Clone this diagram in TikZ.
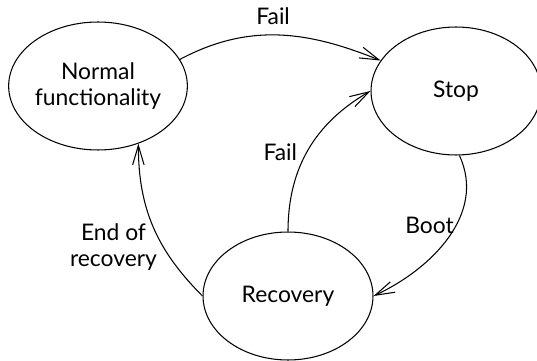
\documentclass[tikz,border=0pt]{standalone}
\usepackage{fontspec}
\setmainfont{Lato}
\usetikzlibrary{shapes.geometric, arrows.meta}

\begin{document}
\begin{tikzpicture}[x=0.02cm, y=-0.02cm,
  state/.style={draw, ellipse, line width=0.6pt, inner sep=0pt, minimum width=3.4cm, minimum height=2.56cm, align=center, font=\fontsize{13}{15}\selectfont},
  trans/.style={line width=0.6pt, -{Straight Barb[length=11pt, width=6.5pt, line width=0.6pt]}},
  lbl/.style={font=\fontsize{13}{15}\selectfont, align=center}]
 \useasboundingbox (0,0) rectangle (537,361);
 \node[state] (normal) at (98,86){Normal\\functionality};
 \node[state] (stop) at (456,91){Stop};
 \node[state] (recovery) at (288,296){Recovery};
 % transitions
 \draw[trans] (normal.18) to[out=28, in=158] node[lbl, above, pos=0.47, yshift=2pt] (failtop) {Fail} (stop.158);
 \draw[trans] (recovery.north) to[out=90, in=210] node[lbl, left, pos=0.48, xshift=-2pt] (failmid) {Fail} (stop.west);
 \draw[trans] (stop.-87) to[out=-65, in=25] node[lbl, left, pos=0.42, inner sep=1pt] (boot) {Boot} (recovery.east);
 \draw[trans] (recovery.west) to[out=135, in=-90] node[lbl, left, pos=0.36] (endrec) {End of\\recovery} (normal.-55);
\end{tikzpicture}
\end{document}
